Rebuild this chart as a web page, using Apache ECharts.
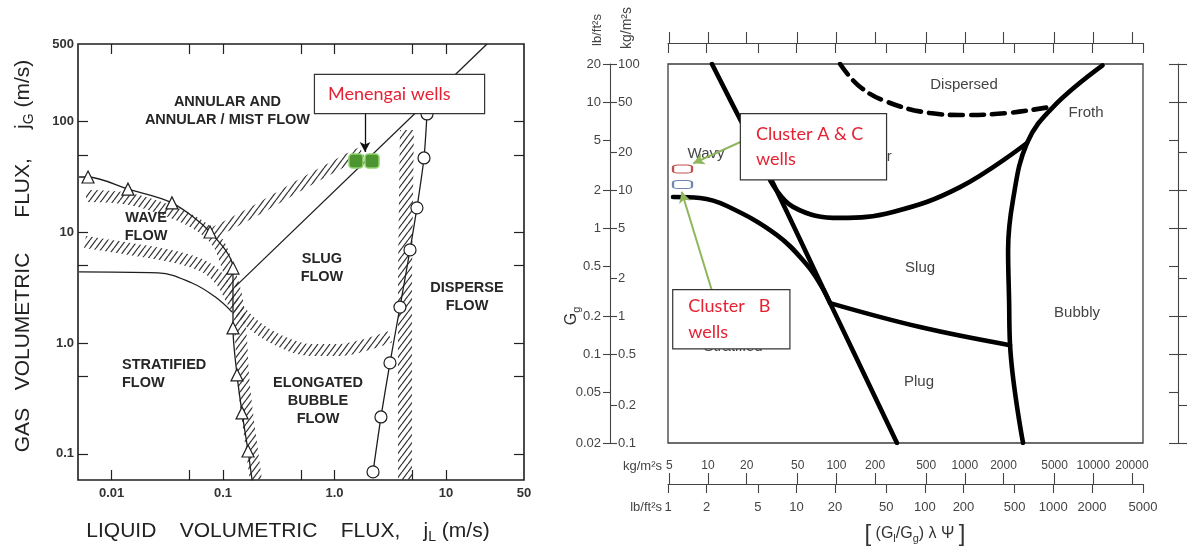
<!DOCTYPE html>
<html>
<head>
<meta charset="utf-8">
<script src="https://cdn.jsdelivr.net/npm/echarts@6/dist/echarts.min.js"></script>
<style>
html, body { margin: 0; padding: 0; background: #fff; }
#chart { width: 1189px; height: 552px; }
</style>
</head>
<body>
<div id="chart"></div>
<script>
// left map: superficial velocities (m/s)
const leftTickX = [0.01, 0.05, 0.1, 0.5, 1, 5, 10];
const leftLabelX = [0.01, 0.1, 1, 10, 50];
const leftTickY = [0.1, 0.5, 1, 5, 10, 50, 100];
const leftLabelY = [0.1, 1, 10, 100, 500];

const waveLine = [[0.00511, 31.5], [0.00615, 31.5], [0.01403, 24.5], [0.0348, 18.4], [0.0764, 10.05], [0.1227, 4.75], [0.1227, 2.61], [0.1227, 1.368], [0.1334, 0.515], [0.148, 0.234], [0.1675, 0.106], [0.182, 0.058]];
const waveTriangles = [[0.00615, 31.5], [0.01403, 24.5], [0.0348, 18.4], [0.0764, 10.05], [0.1227, 4.75], [0.1227, 1.368], [0.1334, 0.515], [0.148, 0.234], [0.1675, 0.106]];
const stratLine = [[0.00511, 4.38], [0.0261, 4.29], [0.0526, 3.48], [0.0848, 2.61], [0.1202, 1.905]];
const slugLine = [[0.128, 3.21], [23.3, 500]];
const disperseLine = [[6.75, 116.8], [6.34, 46.8], [5.48, 16.6], [4.75, 6.92], [3.86, 2.11], [3.14, 0.661], [2.606, 0.215], [2.213, 0.0686]];

// hatched transition bands
const bandWave = [[0.0059, 21.2], [0.01462, 19.9], [0.0348, 15.2], [0.0621, 11.38], [0.0902, 8.0], [0.1107, 4.75], [0.1334, 2.45], [0.1449, 1.066], [0.151, 0.515], [0.164, 0.234], [0.182, 0.106], [0.197, 0.058]];
const bandStrat = [[0.00578, 8.17], [0.01462, 7.06], [0.0371, 5.98], [0.0689, 4.86], [0.0977, 3.56], [0.128, 2.20], [0.193, 1.426], [0.324, 1.042], [0.603, 0.865], [1.119, 0.865], [1.875, 0.960], [3.14, 1.135]];
const bandAnnular = [[0.0848, 10.05], [0.2234, 16.9], [0.511, 27.3], [1.166, 43.0], [1.762, 53.0]];
const bandDisperse = [[4.46, 83.7], [4.37, 19.5], [4.28, 2.45], [4.28, 0.306], [4.28, 0.058]];

const menengaiWells = [[1.556, 43.9], [2.167, 43.9]];

const leftRegionNames = ['ANNULAR AND\nANNULAR / MIST FLOW', 'WAVE\nFLOW', 'SLUG\nFLOW', 'STRATIFIED\nFLOW', 'ELONGATED\nBUBBLE\nFLOW', 'DISPERSE\nFLOW'];
const leftRegionAt = [[0.1095, 124], [0.0204, 11.15], [0.771, 4.75], [0.0124, 0.526], [0.710, 0.300], [15.4, 2.61]];

const menengaiNoteAt = [0.668, 177];
const menengaiArrow = [[1.875, 119], [1.875, 53]];

// right map: Baker chart, lb/ft2s with kg/m2s twins
const rightTickLb = [1, 2, 5, 10, 20, 50, 100, 200, 500, 1000, 2000, 5000];
const rightTickKg = [5, 10, 20, 50, 100, 200, 500, 1000, 2000, 5000, 10000, 20000];
const rightTickGgLb = [0.02, 0.05, 0.1, 0.2, 0.5, 1, 2, 5, 10, 20];
const rightTickGgKg = [0.1, 0.2, 0.5, 1, 2, 5, 10, 20, 50, 100];

const lineWavyAnnular = [[2.20, 20], [3.77, 6.82], [6.23, 2.55], [18.3, 0.256], [60.7, 0.02]];
const lineStratified = [[1.094, 1.77], [1.775, 1.738], [2.88, 1.502], [7.06, 0.885], [12.1, 0.512], [15.8, 0.343], [18.3, 0.256]];
const lineSlugPlug = [[18.3, 0.256], [91.8, 0.1655], [461, 0.119]];
const lineAnnularSlug = [[6.23, 2.41], [9.41, 1.48], [21.9, 1.21], [56.5, 1.35], [188, 2.12], [625, 4.74]];
const lineBubbly = [[2420, 19.5], [996, 9.13], [625, 4.74], [486, 1.68], [445, 0.673], [453, 0.270], [461, 0.119], [582, 0.02]];
const lineDispersed = [[21.9, 20], [30.2, 13.6], [49.0, 10.18], [109.7, 8.18], [205.6, 7.89], [436.5, 8.18], [944, 9.13], [996, 9.29]];

const clusterAC = [[1.297, 2.95]];
const clusterB = [[1.297, 2.22]];

const rightRegionNames = ['Dispersed', 'Froth', 'Wavy', 'Annular', 'Slug', 'Bubbly', 'Plug', 'Stratified'];
const rightRegionAt = [[202, 13.6], [1800, 8.18], [1.98, 3.88], [34.8, 3.67], [91.8, 0.485], [1532, 0.2138], [90.1, 0.0607], [3.21, 0.1149]];

const clusterACNoteAt = [3.70, 4.43];
const clusterBNoteAt = [1.10, 0.1907];
const clusterACArrow = [[3.70, 4.85], [1.574, 3.27]];
const clusterBArrow = [[2.19, 0.325], [1.278, 1.95]];

var chartDom = document.getElementById('chart');
var myChart = echarts.init(chartDom);

const FONT = 'Liberation Sans, Arial, sans-serif';
const NOTE_FONT = 'Lato, Open Sans, sans-serif';
const RED = '#e52233';
const GREEN = '#8fb65c';

// diagonal hatch used for the transition bands
function makeHatch() {
  const c = document.createElement('canvas');
  c.width = 6;
  c.height = 8;
  const g = c.getContext('2d');
  g.strokeStyle = '#3a3a3a';
  g.lineWidth = 1.3;
  g.beginPath();
  for (let k = -1; k <= 1; k++) {
    g.moveTo(6 * k, 8);
    g.lineTo(6 * k + 6, 0);
  }
  g.stroke();
  return c;
}
const hatch = { image: makeHatch(), repeat: 'repeat' };

function num(v) {
  return +(+v).toPrecision(6);
}
function leftFmt(v) {
  const n = num(v);
  return n === 1 ? '1.0' : String(n);
}

function band(data, width) {
  return {
    type: 'line', xAxisIndex: 0, yAxisIndex: 0, data: data,
    showSymbol: false, symbol: 'none', smooth: 0.35, silent: true, z: 1,
    lineStyle: { width: width, color: hatch, cap: 'butt' }
  };
}
function thin(data, smooth) {
  return {
    type: 'line', xAxisIndex: 0, yAxisIndex: 0, data: data,
    showSymbol: false, symbol: 'none', smooth: smooth, silent: true, z: 3,
    lineStyle: { width: 1.3, color: '#1e1e1e' }
  };
}
function thick(data, dashed) {
  return {
    type: 'line', xAxisIndex: 2, yAxisIndex: 2, data: data,
    showSymbol: false, symbol: 'none', smooth: 0.4, silent: true, z: 3,
    lineStyle: { width: 4.6, color: '#000', cap: 'round', type: dashed ? [13, 8] : 'solid' }
  };
}

const tickStyle = { color: '#222', width: 1.2 };
const grayTick = { color: '#444', width: 1.1 };
const hidden = { color: 'rgba(0,0,0,0)', opacity: 1 };

let option = {
  animation: false,
  backgroundColor: '#fff',
  grid: [
    { left: 78, top: 44, width: 446, height: 436, show: true, borderColor: '#1e1e1e', borderWidth: 1.6 },
    { left: 668, top: 64, width: 475, height: 379, show: true, borderColor: '#3c3c3c', borderWidth: 1.3 }
  ],
  xAxis: [
    {
      type: 'log', gridIndex: 0, min: 0.005, max: 50, position: 'bottom',
      axisLine: { show: false }, splitLine: { show: false },
      axisTick: { inside: true, length: 10, customValues: leftTickX, lineStyle: tickStyle },
      axisLabel: { customValues: leftLabelX, formatter: leftFmt, margin: 7, color: '#333', fontWeight: 'bold', fontSize: 13, fontFamily: FONT }
    },
    {
      type: 'log', gridIndex: 0, min: 0.005, max: 50, position: 'top',
      axisLine: { show: false }, splitLine: { show: false },
      axisTick: { inside: true, length: 10, customValues: leftTickX, lineStyle: tickStyle },
      axisLabel: { show: false }
    },
    {
      type: 'log', gridIndex: 1, min: 1, max: 5000, position: 'bottom', offset: 41,
      axisLine: { show: true, lineStyle: grayTick }, splitLine: { show: false },
      axisTick: { inside: false, length: 9, customValues: rightTickLb, lineStyle: grayTick },
      axisLabel: { customValues: rightTickLb, formatter: v => String(num(v)), margin: 17, color: '#444', fontSize: 13, fontFamily: FONT }
    },
    {
      type: 'log', gridIndex: 1, min: 4.882, max: 24410, position: 'bottom', offset: 41,
      axisLine: { show: false }, splitLine: { show: false },
      axisTick: { inside: true, length: 11, customValues: rightTickKg, lineStyle: grayTick },
      axisLabel: { inside: true, customValues: rightTickKg, formatter: v => String(num(v)), margin: 12, color: '#444', fontSize: 12, fontFamily: FONT }
    },
    {
      type: 'log', gridIndex: 1, min: 4.882, max: 24410, position: 'top', offset: 21,
      axisLine: { show: true, lineStyle: grayTick }, splitLine: { show: false },
      axisTick: { inside: false, length: 11, customValues: rightTickKg, lineStyle: grayTick },
      axisLabel: { show: false }
    },
    {
      type: 'log', gridIndex: 1, min: 1, max: 5000, position: 'top', offset: 21,
      axisLine: { show: false }, splitLine: { show: false },
      axisTick: { inside: true, length: 10, customValues: rightTickLb, lineStyle: grayTick },
      axisLabel: { show: false }
    }
  ],
  yAxis: [
    {
      type: 'log', gridIndex: 0, min: 0.058, max: 500, position: 'left',
      axisLine: { show: false }, splitLine: { show: false },
      axisTick: { inside: true, length: 10, customValues: leftTickY, lineStyle: tickStyle },
      axisLabel: { customValues: leftLabelY, formatter: leftFmt, margin: 4, color: '#333', fontWeight: 'bold', fontSize: 13, fontFamily: FONT }
    },
    {
      type: 'log', gridIndex: 0, min: 0.058, max: 500, position: 'right',
      axisLine: { show: false }, splitLine: { show: false },
      axisTick: { inside: true, length: 10, customValues: leftTickY, lineStyle: tickStyle },
      axisLabel: { show: false }
    },
    {
      type: 'log', gridIndex: 1, min: 0.02, max: 20, position: 'left', offset: 58,
      axisLine: { show: true, lineStyle: grayTick }, splitLine: { show: false },
      axisTick: { inside: false, length: 7, customValues: rightTickGgLb, lineStyle: grayTick },
      axisLabel: { customValues: rightTickGgLb, formatter: v => String(num(v)), margin: 9, color: '#444', fontSize: 13, fontFamily: FONT }
    },
    {
      type: 'log', gridIndex: 1, min: 0.1, max: 100, position: 'left', offset: 58,
      axisLine: { show: false }, splitLine: { show: false },
      axisTick: { inside: true, length: 7, customValues: rightTickGgKg, lineStyle: grayTick },
      axisLabel: { inside: true, customValues: rightTickGgKg, formatter: v => String(num(v)), margin: 8, color: '#444', fontSize: 13, fontFamily: FONT }
    },
    {
      type: 'log', gridIndex: 1, min: 0.02, max: 20, position: 'right', offset: 35,
      axisLine: { show: true, lineStyle: grayTick }, splitLine: { show: false },
      axisTick: { inside: true, length: 9, customValues: rightTickGgLb, lineStyle: grayTick },
      axisLabel: { show: false }
    },
    {
      type: 'log', gridIndex: 1, min: 0.1, max: 100, position: 'right', offset: 35,
      axisLine: { show: false }, splitLine: { show: false },
      axisTick: { inside: false, length: 9, customValues: rightTickGgKg, lineStyle: grayTick },
      axisLabel: { show: false }
    }
  ],
  graphic: [
    {
      type: 'text', x: 23, y: 256, rotation: Math.PI / 2, silent: true,
      style: {
        text: 'GAS   VOLUMETRIC      FLUX,     j{s|G} (m/s)',
        rich: { s: { fontSize: 14, fontFamily: FONT, fill: '#222', padding: [12, 0, 0, 0] } },
        fontSize: 21, fontFamily: FONT, fill: '#222', align: 'center', verticalAlign: 'middle'
      }
    },
    {
      type: 'text', x: 288, y: 531, silent: true,
      style: {
        text: 'LIQUID    VOLUMETRIC    FLUX,    j{s|L} (m/s)',
        rich: { s: { fontSize: 14, fontFamily: FONT, fill: '#222', padding: [12, 0, 0, 0] } },
        fontSize: 21, fontFamily: FONT, fill: '#222', align: 'center', verticalAlign: 'middle'
      }
    },
    {
      type: 'text', x: 662, y: 466, silent: true,
      style: { text: 'kg/m²s', fontSize: 13, fontFamily: FONT, fill: '#444', align: 'right', verticalAlign: 'middle' }
    },
    {
      type: 'text', x: 662, y: 507, silent: true,
      style: { text: 'lb/ft²s', fontSize: 13, fontFamily: FONT, fill: '#444', align: 'right', verticalAlign: 'middle' }
    },
    {
      type: 'text', x: 597, y: 30, rotation: Math.PI / 2, silent: true,
      style: { text: 'lb/ft²s', fontSize: 13, fontFamily: FONT, fill: '#444', align: 'center', verticalAlign: 'middle' }
    },
    {
      type: 'text', x: 627, y: 28, rotation: Math.PI / 2, silent: true,
      style: { text: 'kg/m²s', fontSize: 14, fontFamily: FONT, fill: '#444', align: 'center', verticalAlign: 'middle' }
    },
    {
      type: 'text', x: 572, y: 316, rotation: Math.PI / 2, silent: true,
      style: {
        text: 'G{s|g}',
        rich: { s: { fontSize: 11, fontFamily: FONT, fill: '#333', padding: [9, 0, 0, 0] } },
        fontSize: 16, fontFamily: FONT, fill: '#333', align: 'center', verticalAlign: 'middle'
      }
    },
    {
      type: 'text', x: 915, y: 534, silent: true,
      style: {
        text: '{b|[} (G{s|l}/G{s|g}) λ Ψ {b|]}',
        rich: {
          s: { fontSize: 11, fontFamily: FONT, fill: '#333', padding: [9, 0, 0, 0] },
          b: { fontSize: 24, fontFamily: FONT, fill: '#333' }
        },
        fontSize: 16, fontFamily: FONT, fill: '#333', align: 'center', verticalAlign: 'middle'
      }
    }
  ],
  series: [
    // ---- left map ----
    band(bandWave, 12),
    band(bandStrat, 12),
    band(bandAnnular, 11),
    band(bandDisperse, 14),
    thin(waveLine, 0.3),
    thin(stratLine, 0.4),
    thin(slugLine, false),
    thin(disperseLine, 0.2),
    {
      type: 'scatter', xAxisIndex: 0, yAxisIndex: 0, data: waveTriangles, silent: true, z: 4,
      symbol: 'triangle', symbolSize: 12,
      itemStyle: { color: '#fff', borderColor: '#1e1e1e', borderWidth: 1.2, opacity: 1 }
    },
    {
      type: 'scatter', xAxisIndex: 0, yAxisIndex: 0, data: disperseLine, silent: true, z: 4,
      symbol: 'circle', symbolSize: 12,
      itemStyle: { color: '#fff', borderColor: '#1e1e1e', borderWidth: 1.2, opacity: 1 }
    },
    {
      type: 'scatter', xAxisIndex: 0, yAxisIndex: 0, data: menengaiWells, silent: true, z: 6,
      symbol: 'roundRect', symbolSize: 14,
      itemStyle: { color: '#4d9530', borderColor: '#92d36f', borderWidth: 1.5, opacity: 1 }
    },
    {
      type: 'scatter', xAxisIndex: 0, yAxisIndex: 0, silent: true, z: 4,
      symbolSize: 1, itemStyle: hidden,
      data: leftRegionNames.map((n, i) => ({
        name: n, value: leftRegionAt[i],
        label: i === 3 ? { align: 'left' } : {}
      })),
      label: {
        show: true, position: 'inside', formatter: '{b}', color: '#262626',
        fontSize: 14.5, fontWeight: 'bold', fontFamily: FONT, lineHeight: 18
      }
    },
    {
      type: 'scatter', xAxisIndex: 0, yAxisIndex: 0, silent: true, z: 10,
      symbolSize: 1, itemStyle: hidden,
      data: [{ name: 'Menengai wells', value: menengaiNoteAt }],
      label: {
        show: true, position: 'inside', formatter: '{b}', align: 'left', verticalAlign: 'middle',
        color: RED, fontSize: 18, fontFamily: NOTE_FONT,
        backgroundColor: '#fff', borderColor: '#333', borderWidth: 1.2,
        padding: [6, 13], width: 143, height: 26, lineHeight: 26
      },
      markLine: {
        silent: true, symbol: ['none', 'arrow'], symbolSize: [8, 10], animation: false,
        label: { show: false },
        lineStyle: { color: '#111', width: 1.3, type: 'solid' },
        data: [[{ coord: menengaiArrow[0] }, { coord: menengaiArrow[1] }]]
      }
    },
    // ---- right map ----
    thick(lineWavyAnnular, false),
    thick(lineStratified, false),
    thick(lineSlugPlug, false),
    thick(lineAnnularSlug, false),
    thick(lineBubbly, false),
    thick(lineDispersed, true),
    {
      type: 'scatter', xAxisIndex: 2, yAxisIndex: 2, data: clusterAC, silent: true, z: 5,
      symbol: 'roundRect', symbolSize: [19, 8],
      itemStyle: { color: '#fff', borderColor: '#c0504d', borderWidth: 1.5, opacity: 1 }
    },
    {
      type: 'scatter', xAxisIndex: 2, yAxisIndex: 2, data: clusterB, silent: true, z: 5,
      symbol: 'roundRect', symbolSize: [19, 8],
      itemStyle: { color: '#fff', borderColor: '#6d86b0', borderWidth: 1.5, opacity: 1 }
    },
    {
      type: 'scatter', xAxisIndex: 2, yAxisIndex: 2, silent: true, z: 4,
      symbolSize: 1, itemStyle: hidden,
      data: rightRegionNames.map((n, i) => ({ name: n, value: rightRegionAt[i] })),
      label: { show: true, position: 'inside', formatter: '{b}', color: '#444', fontSize: 15, fontFamily: FONT }
    },
    {
      type: 'scatter', xAxisIndex: 2, yAxisIndex: 2, silent: true, z: 10,
      symbolSize: 1, itemStyle: hidden,
      data: [
        {
          name: 'Cluster A & C\nwells', value: clusterACNoteAt,
          label: { padding: [7, 15], width: 115, height: 51, lineHeight: 25 }
        },
        {
          name: 'Cluster   B\nwells', value: clusterBNoteAt,
          label: { padding: [5, 15], width: 86, height: 48, lineHeight: 26 }
        }
      ],
      label: {
        show: true, position: 'inside', formatter: '{b}', align: 'left', verticalAlign: 'middle',
        color: RED, fontSize: 18, fontFamily: NOTE_FONT,
        backgroundColor: '#fff', borderColor: '#333', borderWidth: 1.2
      },
      markLine: {
        silent: true, symbol: ['none', 'arrow'], symbolSize: [9, 11], animation: false,
        label: { show: false },
        lineStyle: { color: GREEN, width: 2, type: 'solid' },
        data: [
          [{ coord: clusterACArrow[0] }, { coord: clusterACArrow[1] }],
          [{ coord: clusterBArrow[0] }, { coord: clusterBArrow[1] }]
        ]
      }
    }
  ]
};

myChart.setOption(option);
</script>
</body>
</html>
